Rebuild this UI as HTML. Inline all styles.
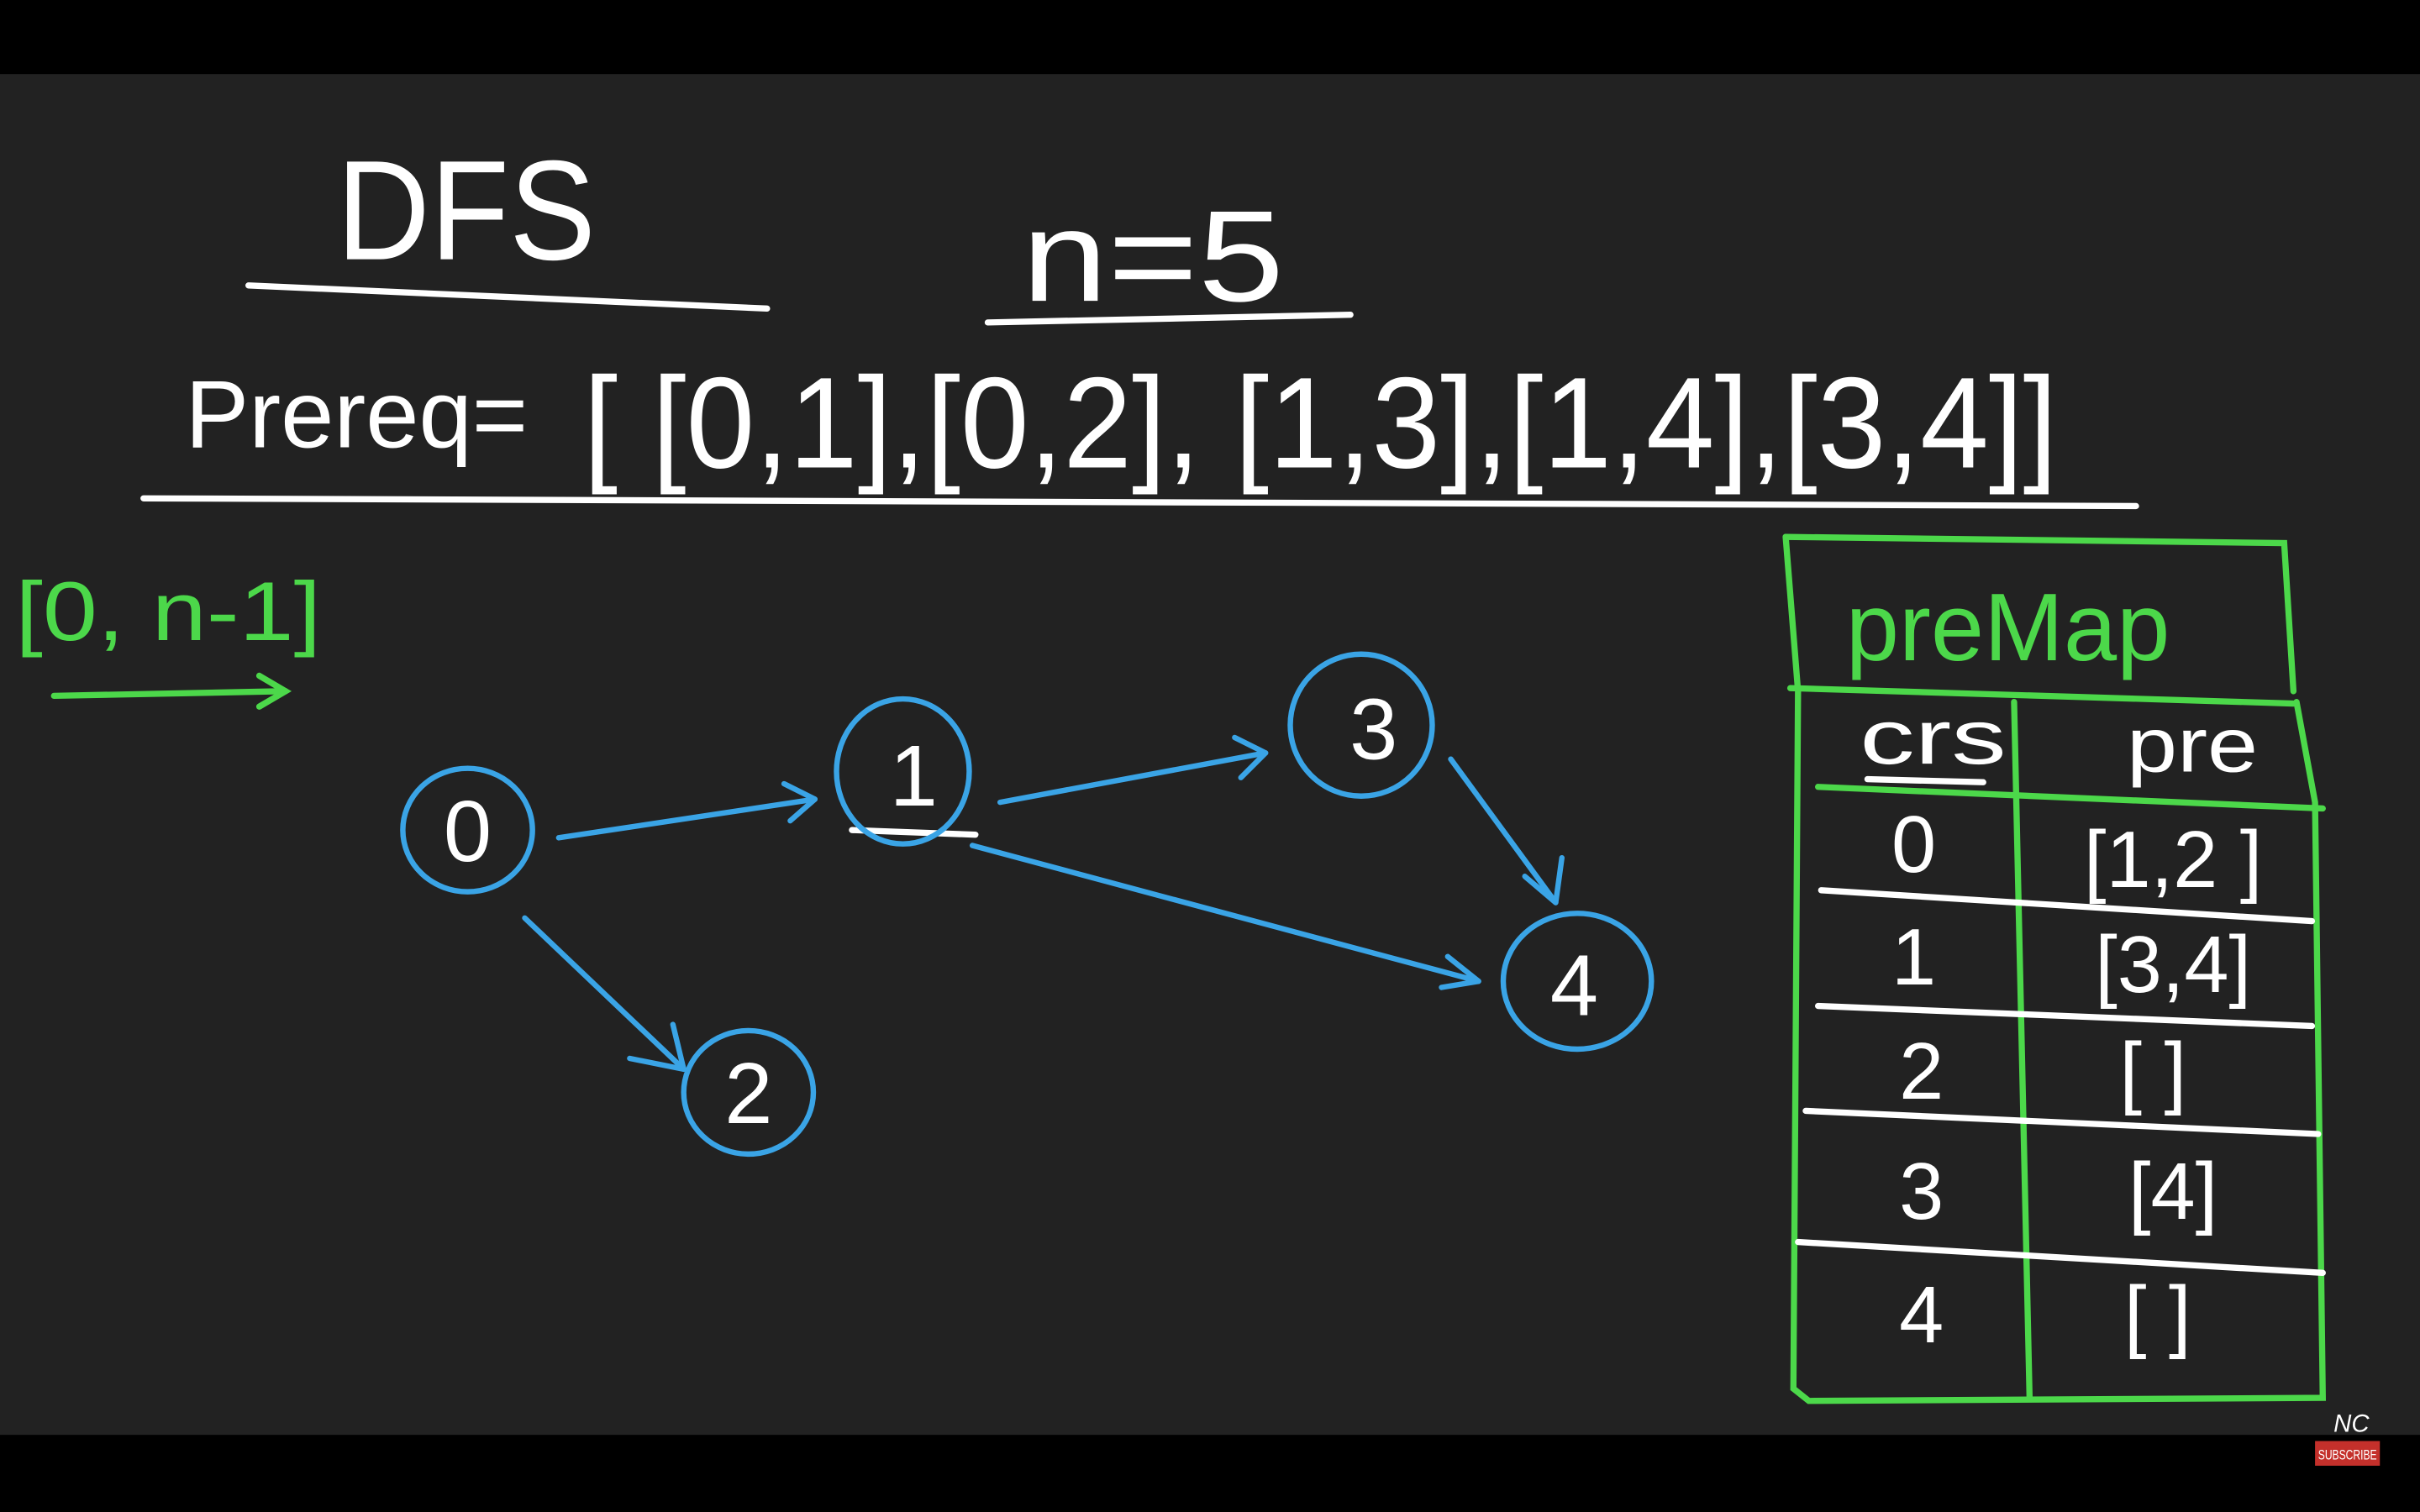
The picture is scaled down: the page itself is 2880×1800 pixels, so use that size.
<!DOCTYPE html>
<html><head><meta charset="utf-8"><style>
html,body{margin:0;padding:0;background:#000;width:2880px;height:1800px;overflow:hidden}
svg{display:block}
text{font-family:"Liberation Sans",sans-serif}
</style></head><body>
<svg width="2880" height="1800" viewBox="0 0 1568 980" xmlns="http://www.w3.org/2000/svg">
<rect x="0" y="0" width="1568" height="980" fill="#000"/>
<rect x="0" y="48" width="1568" height="882" fill="#222222"/>
<g fill="#fff" stroke="none">
<text x="218" y="168" font-size="92" textLength="168" lengthAdjust="spacingAndGlyphs">DFS</text>
<text x="662" y="195" font-size="84" textLength="170" lengthAdjust="spacingAndGlyphs">n=5</text>
<text x="120" y="290" font-size="62" textLength="222" lengthAdjust="spacingAndGlyphs">Prereq=</text>
<text x="378" y="303" font-size="84" textLength="955" lengthAdjust="spacingAndGlyphs">[ [0,1],[0,2], [1,3],[1,4],[3,4]]</text>
</g>
<g stroke="#fff" stroke-width="4" stroke-linecap="round" fill="none">
<line x1="161" y1="185" x2="497" y2="200"/>
<line x1="640" y1="209" x2="875" y2="204"/>
<line x1="93" y1="323" x2="1384" y2="328"/>
<line x1="552" y1="538" x2="632" y2="541"/>
</g>
<text x="10" y="415" font-size="54" fill="#4cd84a" textLength="198" lengthAdjust="spacingAndGlyphs">[0, n-1]</text>
<g stroke="#4cd84a" stroke-width="4" fill="none" stroke-linecap="round">
<line x1="35" y1="451" x2="185" y2="448"/>
<polyline points="168,438 185,448 168,458"/>
</g>
<g stroke="#3aa4e6" stroke-width="3.5" fill="none" stroke-linecap="round" stroke-linejoin="round">
<ellipse cx="303" cy="538" rx="42" ry="40"/>
<ellipse cx="585" cy="500" rx="43" ry="47"/>
<ellipse cx="882" cy="470" rx="46" ry="46"/>
<ellipse cx="1022" cy="636" rx="48" ry="44"/>
<ellipse cx="485" cy="708" rx="42" ry="40"/>
<line x1="362" y1="543" x2="528" y2="518"/><polyline points="508,508 528,518 512,532"/>
<line x1="648" y1="520" x2="820" y2="488"/><polyline points="800,478 820,488 804,504"/>
<line x1="940" y1="492" x2="1008" y2="585"/><polyline points="1012,556 1008,585 988,568"/>
<line x1="630" y1="548" x2="958" y2="636"/><polyline points="938,620 958,636 934,640"/>
<line x1="340" y1="595" x2="443" y2="693"/><polyline points="408,686 443,693 436,664"/>
</g>
<g fill="#fff" font-size="56" text-anchor="middle">
<text x="303" y="558">0</text>
<text x="592" y="522">1</text>
<text x="890" y="492">3</text>
<text x="1020" y="658">4</text>
<text x="485" y="728">2</text>
</g>
<g stroke="#4cd84a" stroke-width="4" fill="none" stroke-linecap="round">
<polyline points="1157,348 1480,352 1486,448"/>
<polyline points="1157,348 1165,448 1162,900 1172,908 1505,906 1500,520 1488,455"/>
<line x1="1160" y1="446" x2="1486" y2="456"/>
<line x1="1305" y1="455" x2="1315" y2="905"/>
<line x1="1178" y1="510" x2="1505" y2="524"/>
</g>
<g stroke="#fff" stroke-width="4" fill="none" stroke-linecap="round">
<line x1="1180" y1="577" x2="1498" y2="597"/>
<line x1="1178" y1="652" x2="1498" y2="665"/>
<line x1="1170" y1="720" x2="1502" y2="735"/>
<line x1="1165" y1="805" x2="1505" y2="825"/>
<line x1="1210" y1="505" x2="1285" y2="507"/>
</g>
<text x="1196" y="428" font-size="62" fill="#4cd84a" textLength="210" lengthAdjust="spacingAndGlyphs">preMap</text>
<g fill="#fff" font-size="50">
<text x="1205" y="495" textLength="95" lengthAdjust="spacingAndGlyphs">crs</text>
<text x="1378" y="500" textLength="85" lengthAdjust="spacingAndGlyphs">pre</text>
</g>
<g fill="#fff" font-size="52" text-anchor="middle">
<text x="1240" y="565">0</text><text x="1408" y="575">[1,2 ]</text>
<text x="1240" y="638">1</text><text x="1408" y="643">[3,4]</text>
<text x="1245" y="712">2</text><text x="1395" y="712">[ ]</text>
<text x="1245" y="790">3</text><text x="1408" y="790">[4]</text>
<text x="1245" y="870">4</text><text x="1398" y="870">[ ]</text>
</g>
<text x="1512" y="928" font-size="16" fill="#fff" font-style="italic">NC</text>
<rect x="1500" y="934" width="42" height="16" fill="#c4302b"/>
<text x="1502" y="946" font-size="9" fill="#fff" textLength="38" lengthAdjust="spacingAndGlyphs">SUBSCRIBE</text>
</svg>
</body></html>
